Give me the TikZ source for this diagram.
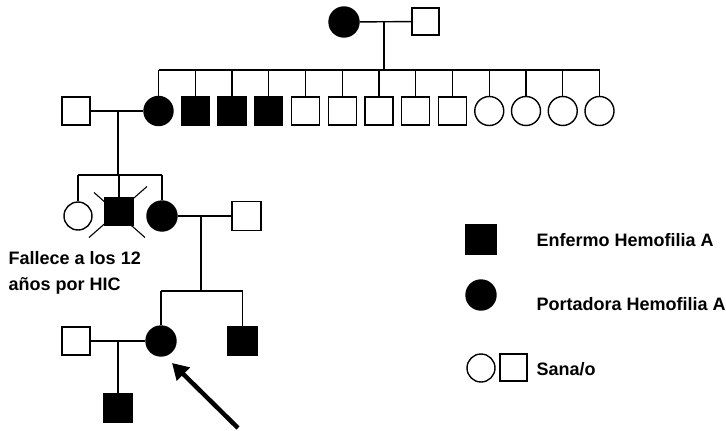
\documentclass[tikz,border=0pt]{standalone}
\usepackage{fontspec}
\setmainfont{Liberation Sans}
\usetikzlibrary{arrows.meta,calc}
\colorlet{affected fill}{black}
\tikzset{male/.style={draw, rectangle, minimum size=28pt, inner sep=0pt},
    female/.style={draw, circle, minimum size=29pt, inner sep=0pt},
    affected/.style={fill=affected fill},
    note/.style={font=\bfseries\fontsize{18pt}{26pt}\selectfont, inner sep=0pt, align=left},
    pointer/.style={line width=4.5pt, -{Triangle[length=16pt,width=18pt]}}}

\begin{document}
\begin{tikzpicture}[x=1pt, y=-1pt, line width=1.4pt]
  \useasboundingbox (0,0) rectangle (726,431);
  % generation I
  \node[female, affected, minimum size=30pt] (gm) at (344,22) {};
  \node[male, minimum size=27pt] (gf) at (425.5,21.5) {};
  \draw (gm) -- (gf);
  \coordinate (m1) at (384,22);
  \coordinate (sib1) at (0,70);
  % generation II
  \node[female, affected] (c0) at (158.5,111) {};
  \foreach \i in {1,2,3} \node[male, affected] (c\i) at ({158.5+36.75*\i},111) {};
  \foreach \i in {4,...,8} \node[male] (c\i) at ({158.5+36.75*\i},111) {};
  \foreach \i in {9,...,12} \node[female] (c\i) at ({158.5+36.75*\i},111) {};
  \draw (m1) -- (m1 |- sib1);
  \draw (c0 |- sib1) -- (c12 |- sib1);
  \foreach \i in {0,...,12} \draw (c\i |- sib1) -- (c\i);
  \node[male] (h1) at (76,111) {};
  \draw (h1) -- (c0);
  \coordinate (m2) at (118,111);
  \coordinate (sib2) at (0,175);
  % generation III
  \draw[line width=1.1pt] (119,211.5) +(-30,26) -- +(28,-25) +(-25,-19) -- +(26,26);
  \node[female, minimum size=28pt] (d1) at (78,216) {};
  \node[male, affected] (d2) at (119,211.5) {};
  \node[female, affected, minimum size=30pt] (d3) at (162,216) {};
  \node[male, minimum size=29pt] (h2) at (246.5,216) {};
  \draw (m2) -- (m2 |- sib2);
  \draw (d1 |- sib2) -- (d3 |- sib2);
  \foreach \n in {d1,d2,d3} \draw (\n |- sib2) -- (\n);
  \draw (d3) -- (h2);
  \coordinate (m3) at (201,216);
  \coordinate (sib3) at (0,291);
  \node[note, anchor=north west] (died) at (8,251) {Fallece a los 12\\años por HIC};
  % generation IV
  \node[female, affected, minimum size=30pt] (g1) at (161,341) {};
  \node[male, affected, minimum size=29pt] (g2) at (242.5,341) {};
  \draw (m3) -- (m3 |- sib3);
  \draw (g1 |- sib3) -- (g2 |- sib3);
  \foreach \n in {g1,g2} \draw (\n |- sib3) -- (\n);
  \node[male] (h3) at (76,341) {};
  \draw (h3) -- (g1);
  \coordinate (m4) at (118,341);
  % generation V
  \node[male, affected] (gg) at (118,408) {};
  \draw (m4) -- (gg);
  % proband
  \coordinate (tail) at (238,428);
  \coordinate (tip) at (172,363);
  \draw[pointer] (tail) -- (tip);
  % legend
  \node[male, affected, minimum size=30pt] (ls) at (481,239.5) {};
  \node[note, anchor=west] (lst) at (536,240) {Enfermo Hemofilia A};
  \node[female, affected, minimum size=30pt] (lc) at (481,295) {};
  \node[note, anchor=west] (lct) at (536,304) {Portadora Hemofilia A};
  \node[female, minimum size=28pt] (lo) at (481,368) {};
  \node[male, minimum size=27pt] (lq) at (513.5,367.5) {};
  \node[note, anchor=west] (lqt) at (536,369) {Sana/o};
\end{tikzpicture}
\end{document}
